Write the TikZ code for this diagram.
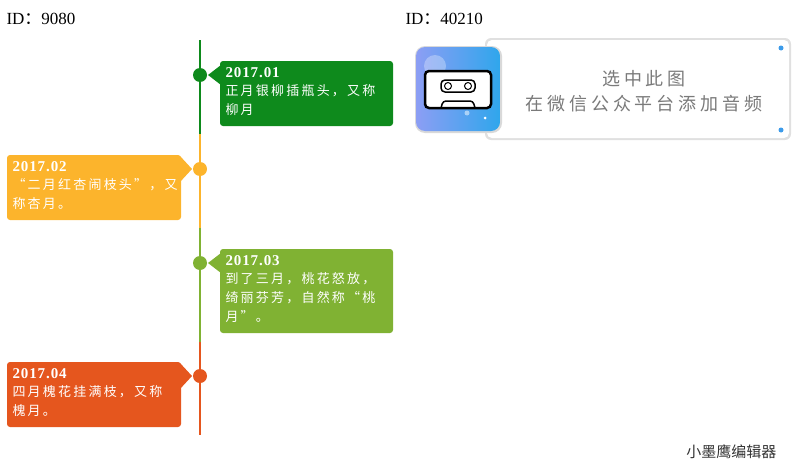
\documentclass[tikz,border=0pt]{standalone}
\usepackage{fontspec}
\setmainfont{Liberation Serif}
\newfontfamily\cjk[LetterSpace=17]{Noto Sans CJK SC}
\newfontfamily\cjkwide[LetterSpace=22]{Noto Sans CJK SC}
\newfontfamily\cjkplain{Noto Sans CJK SC}
\usetikzlibrary{shadows}
\definecolor{tlgreen}{HTML}{0E8A1C}
\definecolor{tlyellow}{HTML}{FCB42C}
\definecolor{tllime}{HTML}{80B233}
\definecolor{tlorange}{HTML}{E5561E}
\definecolor{cardgray}{HTML}{7A7A7A}
\definecolor{dotblue}{HTML}{3C9BEA}
\definecolor{iconleft}{HTML}{8C9EF4}
\definecolor{iconright}{HTML}{2FA6EC}
\tikzset{
  dot/.style={circle,inner sep=0pt,minimum size=14pt},
  box/.style={rounded corners=3pt},
  date/.style={anchor=north west,text=white,font=\fontsize{15}{15}\selectfont\bfseries\addfontfeature{LetterSpace=6}},
  body/.style={anchor=north west,text=white,align=left,font=\fontsize{13}{19}\cjk},
}
\begin{document}
\begin{tikzpicture}[x=1pt,y=-1pt]
		\useasboundingbox (0,0) rectangle (800,471);

		% ids
		\node[anchor=west,font=\fontsize{17}{17}\selectfont] (id1) at (3,19) {ID{\cjkplain ：}9080};
		\node[anchor=west,font=\fontsize{17}{17}\selectfont] (id2) at (402,19) {ID{\cjkplain ：}40210};

		% timeline
		\draw[tlgreen,line width=2pt] (200,40) -- (200,134);
		\draw[tlyellow,line width=2pt] (200,134) -- (200,228);
		\draw[tllime,line width=2pt] (200,228) -- (200,342);
		\draw[tlorange,line width=2pt] (200,342) -- (200,435);

		% right boxes
		\foreach \c/\t/\b in {tlgreen/61/126, tllime/249/333}
			{
				\fill[\c,box] (220,\t) rectangle (393,\b);
				\fill[\c] (208,\t+14) -- (221,\t+4) -- (221,\t+24) -- cycle;
			}
		% left boxes
		\foreach \c/\t/\b in {tlyellow/155/220, tlorange/362/427}
			{
				\fill[\c,box] (7,\t) rectangle (181,\b);
				\fill[\c] (192,\t+14) -- (180,\t+1) -- (180,\t+27) -- cycle;
			}

		\node[dot,fill=tlgreen] (d1) at (200,75) {};
		\node[dot,fill=tlyellow] (d2) at (200,169) {};
		\node[dot,fill=tllime] (d3) at (200,263) {};
		\node[dot,fill=tlorange] (d4) at (200,376) {};

		\node[date] (t1) at (222,64) {2017.01};
		\node[body] (b1) at (222,81) {正月银柳插瓶头，又称\\柳月};
		\node[date] (t2) at (9,158) {2017.02};
		\node[body] (b2) at (9,175) {“二月红杏闹枝头”，又\\称杏月。};
		\node[date] (t3) at (222,252) {2017.03};
		\node[body] (b3) at (222,269) {到了三月，桃花怒放，\\绮丽芬芳，自然称“桃\\月”。};
		\node[date] (t4) at (9,365) {2017.04};
		\node[body] (b4) at (9,382) {四月槐花挂满枝，又称\\槐月。};

		% audio card
		\fill[black!12,rounded corners=6pt] (485,38) rectangle (791,140);
		\fill[white,rounded corners=5pt] (487,40) rectangle (789,138);
		\fill[dotblue] (781,48) circle (2.5);
		\fill[dotblue] (781,130) circle (2.5);
		\node[text=cardgray,align=center,font=\fontsize{18}{25}\cjkwide] (card) at (644,91) {选中此图\\在微信公众平台添加音频};
		\fill[black!15,rounded corners=10pt] (415,46) rectangle (502,133);
		\shade[left color=iconleft,right color=iconright,rounded corners=9pt] (416,47) rectangle (500,131);
		\fill[white,opacity=.3] (435,66) circle (11);
		\fill[white,opacity=.5] (467,113) circle (2.5);
		\fill[white] (485,118) circle (1.5);
		\draw[black,line width=2.5pt,fill=white,rounded corners=4pt] (425,71) rectangle (491,108);
		\draw[black,line width=1.5pt,rounded corners=3pt] (441,108) -- (443,101) -- (473,101) -- (475,108);
		\draw[black,line width=1.5pt,rounded corners=4pt] (441,80) rectangle (475,92);
		\draw[black,line width=1pt] (448,86) circle (3.5) (468,86) circle (3.5);

		\node[anchor=east,text=black!80,font=\fontsize{15}{15}\cjkplain] (brand) at (780,452) {小墨鹰编辑器};
	\end{tikzpicture}
\end{document}
